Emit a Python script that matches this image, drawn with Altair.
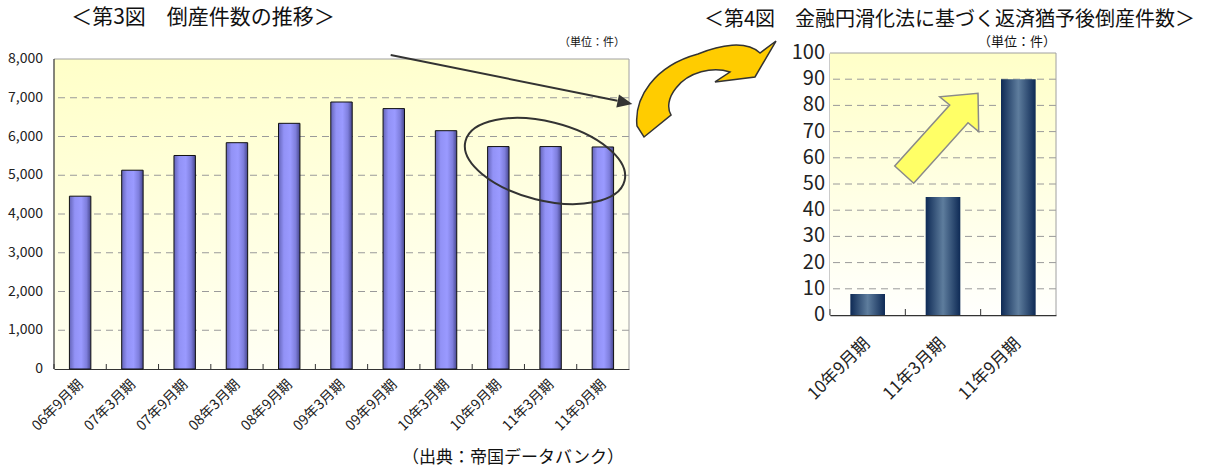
import altair as alt
import pandas as pd

FONT = "Noto Sans CJK JP"

# ---------------- data ----------------
periods3 = ["06年9月期", "07年3月期", "07年9月期", "08年3月期", "08年9月期", "09年3月期",
            "09年9月期", "10年3月期", "10年9月期", "11年3月期", "11年9月期"]
counts3 = [4460, 5130, 5510, 5840, 6340, 6890, 6720, 6150, 5740, 5740, 5730]
ticks3 = [0, 1000, 2000, 3000, 4000, 5000, 6000, 7000, 8000]
grid3 = [1000, 2000, 3000, 4000, 5000, 6000, 7000]

periods4 = ["10年9月期", "11年3月期", "11年9月期"]
counts4 = [8, 45, 90]
ticks4 = [0, 10, 20, 30, 40, 50, 60, 70, 80, 90, 100]
grid4 = [10, 20, 30, 40, 50, 60, 70, 80, 90]

title3 = "＜第3図　倒産件数の推移＞"
title4 = "＜第4図　金融円滑化法に基づく返済猶予後倒産件数＞"
unit_label = "（単位：件）"
source_label = "（出典：帝国データバンク）"

# ---------------- layout / style ----------------
TOP3 = 6                      # left plot starts a little below its panel origin
W3, H3 = 575, 310 + TOP3
W4, H4 = 226, 262
YMAX3 = 8000 * H3 / (H3 - TOP3)

BORDER = "#A0A0A0"
AXIS = "#333333"


def grad(stops, x2=0, y2=1):
    return alt.LinearGradient(
        gradient="linear",
        stops=[alt.GradientStop(offset=o, color=c) for o, c in stops],
        x1=0, y1=0, x2=x2, y2=y2,
    )

bg3 = grad([(0, "#FFFFC8"), (1, "#FFFFF3")], x2=0.25, y2=1)
bg4 = grad([(0, "#FFFFC8"), (1, "#FFFFFD")])
bar3_fill = grad([(0, "#6464B8"), (0.25, "#9292F6"), (0.55, "#9A9AFF"),
                  (0.8, "#7E7EDC"), (1, "#46468E")], x2=1, y2=0)
bar4_fill = grad([(0, "#0E2A55"), (0.5, "#5E7D9D"), (1, "#0E2A55")], x2=1, y2=0)

# decorative shapes (symbol paths in unit box)
ELLIPSE = ("M -1 0 C -1 -0.265 -0.552 -0.48 0 -0.48 C 0.552 -0.48 1 -0.265 1 0 "
           "C 1 0.265 0.552 0.48 0 0.48 C -0.552 0.48 -1 0.265 -1 0 Z")
ARROWHEAD = "M 1 0 L -1 -0.9 L -1 0.9 Z"
CURVED = ("M -0.958 0.521 C -1.0 0.127 -0.718 -0.324 -0.099 -0.493 "
          "C 0.211 -0.620 0.577 -0.690 0.775 -0.507 L 1.0 -0.676 L 0.704 -0.169 "
          "L 0.141 -0.099 L 0.352 -0.239 C 0.113 -0.324 -0.239 -0.239 -0.408 -0.014 "
          "C -0.521 0.127 -0.535 0.268 -0.479 0.366 L -0.859 0.676 Z")
STRAIGHT = ("M -0.933 0.616 L -0.511 1.0 L 0.696 -0.347 L 0.933 -0.147 "
            "L 0.918 -1.0 L 0.067 -0.924 L 0.289 -0.740 Z")

one = pd.DataFrame({"k": [0]})


def text_layer(txt, x, y, size, align="center"):
    return alt.Chart(pd.DataFrame({"t": [txt]})).mark_text(
        font=FONT, fontSize=size, align=align, baseline="middle", color="#111"
    ).encode(x=alt.value(x), y=alt.value(y), text="t:N")


# ================= Figure 3 =================
df3 = pd.DataFrame({"period": periods3, "count": counts3})
xs3 = alt.Scale(paddingInner=0, paddingOuter=0)
ys3 = alt.Scale(domain=[0, YMAX3], nice=False, zero=True)
xa3 = alt.Axis(labelAngle=-45, labelAlign="right", labelBaseline="top",
               labelFontSize=14, labelPadding=8, labelOffset=-4, ticks=False,
               domainColor=AXIS, domainWidth=1.2, labelColor="#222",
               labelFont=FONT, grid=False, labelOverlap=False)
ya3 = alt.Axis(values=ticks3, labels=False, ticks=False, domain=False, grid=False)

bgL = alt.Chart(one).mark_rect(fill=bg3).encode(
    x=alt.value(0), x2=alt.value(W3),
    y=alt.value(TOP3), y2=alt.value(H3))

gridL = alt.Chart(pd.DataFrame({"v": grid3})).mark_rule(
    color="#9A9A9A", strokeWidth=1, strokeDash=[7, 5]
).encode(y=alt.Y("v:Q", scale=ys3, title=None, axis=ya3))

topL = alt.Chart(pd.DataFrame({"v": ticks3[-1:]})).mark_rule(
    color=BORDER, strokeWidth=1).encode(y=alt.Y("v:Q", scale=ys3, title=None, axis=ya3))
rightL = alt.Chart(one).mark_rule(color=BORDER, strokeWidth=1).encode(
    x=alt.value(W3), y=alt.value(TOP3), y2=alt.value(H3))

barsL = alt.Chart(df3).mark_bar(
    width=alt.RelativeBandSize(0.41), fill=bar3_fill, stroke="#111", strokeWidth=1
).encode(
    x=alt.X("period:N", sort=periods3, title=None, scale=xs3, axis=xa3),
    y=alt.Y("count:Q", scale=ys3, title=None, axis=ya3),
)

tickL = alt.Chart(df3).mark_rule(color=AXIS, strokeWidth=1).encode(
    x=alt.X("period:N", sort=periods3, scale=xs3, bandPosition=0, title=None, axis=xa3),
    y=alt.value(H3 - 5), y2=alt.value(H3),
)

ylabL = alt.Chart(pd.DataFrame({"v": ticks3, "lab": [f"{v:,}" for v in ticks3]})).mark_text(
    font=FONT, fontSize=14, align="right", baseline="middle", color="#222"
).encode(x=alt.value(-11), y=alt.Y("v:Q", scale=ys3, title=None, axis=ya3), text="lab:N")

leftAxisLine = alt.Chart(one).mark_rule(color=AXIS, strokeWidth=1.2).encode(
    x=alt.value(0), y=alt.value(TOP3), y2=alt.value(H3))

ellipse = alt.Chart(one).mark_point(
    shape=ELLIPSE, size=26896, angle=14, filled=False, stroke="#333",
    strokeWidth=2, opacity=1
).encode(x=alt.value(491), y=alt.value(102 + TOP3))

arrow_line = alt.Chart(one).mark_rule(color="#333", strokeWidth=2).encode(
    x=alt.value(336.7), y=alt.value(-4 + TOP3), x2=alt.value(563.5), y2=alt.value(41.8 + TOP3))

arrow_head = alt.Chart(one).mark_point(
    shape=ARROWHEAD, size=225, angle=11.5, filled=True, fill="#333", opacity=1
).encode(x=alt.value(571), y=alt.value(43.5 + TOP3))

left = alt.layer(
    bgL, gridL, topL, rightL, barsL, tickL, ylabL, leftAxisLine, ellipse, arrow_line,
    arrow_head,
    text_layer(title3, 149, -41 + TOP3, 21),
    text_layer(unit_label, 571, -16 + TOP3, 11, align="right"),
    text_layer(source_label, 459, 399 + TOP3, 17),
).properties(width=W3, height=H3)

# ================= Figure 4 =================
df4 = pd.DataFrame({"period": periods4, "count": counts4})
xs4 = alt.Scale(paddingInner=0, paddingOuter=0)
ys4 = alt.Scale(domain=[0, 100], nice=False)
xa4 = alt.Axis(labelAngle=-45, labelAlign="right", labelBaseline="top",
               labelFontSize=17, labelPadding=20, labelOffset=-6, ticks=False,
               domainColor=AXIS, domainWidth=1.5, labelColor="#222",
               labelFont=FONT, grid=False, labelOverlap=False)
ya4 = alt.Axis(values=ticks4, labels=False, ticks=False, domainColor=AXIS,
               domainWidth=1.5, grid=False)

bgR = alt.Chart(one).mark_rect(fill=bg4).encode(
    x=alt.value(0), x2=alt.value(W4), y=alt.value(0), y2=alt.value(H4))

gridR = alt.Chart(pd.DataFrame({"v": grid4})).mark_rule(
    color="#9A9A9A", strokeWidth=1, strokeDash=[7, 5]
).encode(y=alt.Y("v:Q", scale=ys4, title=None, axis=ya4))

topR = alt.Chart(one).mark_rule(color=BORDER, strokeWidth=1).encode(
    x=alt.value(0), x2=alt.value(W4), y=alt.value(0))
rightR = alt.Chart(one).mark_rule(color=BORDER, strokeWidth=1).encode(
    x=alt.value(W4), y=alt.value(0), y2=alt.value(H4))

barsR = alt.Chart(df4).mark_bar(
    width=alt.RelativeBandSize(0.46), fill=bar4_fill
).encode(
    x=alt.X("period:N", sort=periods4, title=None, scale=xs4, axis=xa4),
    y=alt.Y("count:Q", scale=ys4, title=None, axis=ya4),
)

tickR = alt.Chart(df4).mark_rule(color=AXIS, strokeWidth=1).encode(
    x=alt.X("period:N", sort=periods4, scale=xs4, bandPosition=0, title=None, axis=xa4),
    y=alt.value(H4 - 6), y2=alt.value(H4),
)

ylabR = alt.Chart(pd.DataFrame({"v": ticks4, "lab": [str(v) for v in ticks4]})).mark_text(
    font=FONT, fontSize=20, align="right", baseline="middle", color="#222"
).encode(x=alt.value(-5), y=alt.Y("v:Q", scale=ys4, title=None, axis=ya4), text="lab:N")

curved = alt.Chart(one).mark_point(
    shape=CURVED, size=20164, filled=True, fill="#FFCC00", stroke="#333",
    strokeWidth=1.5, opacity=1
).encode(x=alt.value(-125), y=alt.value(36))

straight = alt.Chart(one).mark_point(
    shape=STRAIGHT, size=8100, filled=True, fill="#FFFF66", stroke="#8A8A8A",
    strokeWidth=1.5, opacity=1
).encode(x=alt.value(106.7), y=alt.value(85.3))

right = alt.layer(
    bgR, gridR, topR, rightR, barsR, tickR, ylabR, curved, straight,
    text_layer(title4, 119.5, -33, 20),
    text_layer(unit_label, 226, -11, 13, align="right"),
).properties(width=W4, height=H4)

chart = alt.hconcat(left, right, spacing=0).properties(
    padding={"left": 7, "top": 6, "right": 5, "bottom": 5}
).configure_view(stroke="transparent").configure_axis(labelOverlap=False)

chart.save("out.html", embed_options={"renderer": "svg", "actions": False})
